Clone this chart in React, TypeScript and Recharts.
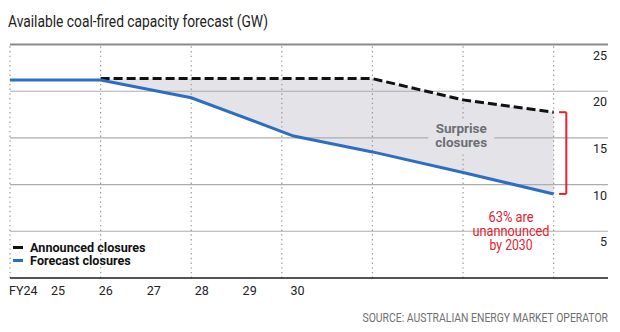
import React from 'react';
import {
  ComposedChart,
  Line,
  Area,
  XAxis,
  YAxis,
  ReferenceLine,
  ReferenceDot,
  Legend,
} from 'recharts';

// x is measured in gridline steps (the dotted verticals)
const gridSteps = [0, 1, 2, 3, 4, 5, 6];
const pointPos = [0, 1, 2, 3.13, 4, 5, 6];
const forecastClosures = [21.2, 21.2, 19.3, 15.2, 13.5, 11.3, 9.0];
const announcedClosures = [null, 21.35, 21.35, 21.35, 21.35, 19.07, 17.75];

const yearLabels = ['FY24', '25', '26', '27', '28', '29', '30'];
const yearLabelPos = [0, 0.529, 1.058, 1.587, 2.116, 2.645, 3.174];
const yTicks = [0, 5, 10, 15, 20, 25];
const hGrid = [5, 10, 15, 20];

const data = pointPos.map((x, i) => ({
  x,
  forecast: forecastClosures[i],
  announced: announcedClosures[i],
  gap: announcedClosures[i] == null ? null : [forecastClosures[i], announcedClosures[i]],
}));

const FONT = "Roboto, 'Liberation Sans', sans-serif";
const RED = '#e4222f';
const BLUE = '#2e6ec2';
const FILL = '#e4e4e8';

const lastAnnounced = announcedClosures[announcedClosures.length - 1] as number;
const lastForecast = forecastClosures[forecastClosures.length - 1];

// the source font is a condensed face, so squeeze regular Roboto to the measured widths
function Narrow({ x, y, w, size, fill, anchor = 'start', children }: any) {
  return (
    <text x={x} y={y} fontFamily={FONT} fontSize={size} fill={fill} textAnchor={anchor}
      textLength={w} lengthAdjust="spacingAndGlyphs">
      {children}
    </text>
  );
}

function XTick(props: any) {
  const { x, y, index } = props;
  const first = index === 0;
  return (
    <text x={first ? x - 1 : x} y={y + 17} textAnchor={first ? 'start' : 'middle'}
      fontFamily={FONT} fontSize={12.5} fill="#222">
      {yearLabels[index]}
    </text>
  );
}

function YTick(props: any) {
  const { x, y, payload } = props;
  if (payload.value === 0) return null;
  return (
    <text x={x - 1} y={y + 15} textAnchor="end" fontFamily={FONT} fontSize={12.5} fill="#222">
      {payload.value}
    </text>
  );
}

const surpriseLabel = (p: any) => (
  <g>
    <rect x={p.cx - 33} y={p.cy - 16} width={66} height={32} fill={FILL} />
    <text x={p.cx} y={p.cy - 2} textAnchor="middle" fontFamily={FONT} fontWeight={700} fontSize={13.5} fill="#6c6f76">
      Surprise
    </text>
    <text x={p.cx} y={p.cy + 12} textAnchor="middle" fontFamily={FONT} fontWeight={700} fontSize={13.5} fill="#6c6f76">
      closures
    </text>
  </g>
);

const redNote = (p: any) => (
  <g>
    <Narrow x={p.cx} y={p.cy - 14.5} w={45} size={14.5} fill={RED} anchor="middle">63% are</Narrow>
    <Narrow x={p.cx} y={p.cy} w={77} size={14.5} fill={RED} anchor="middle">unannounced</Narrow>
    <Narrow x={p.cx} y={p.cy + 14} w={43} size={14.5} fill={RED} anchor="middle">by 2030</Narrow>
  </g>
);

const renderLegend = (props: any) => {
  const items = (props.payload || []).filter((p: any) => p.type !== 'none');
  return (
    <div>
      {items.map((p: any) => (
        <div key={p.value} style={{ display: 'flex', alignItems: 'center', height: 13.4 }}>
          <span style={{ display: 'inline-block', width: 10.6, height: 2.8, background: p.color, marginRight: 7 }} />
          <span style={{ fontFamily: FONT, fontWeight: 700, fontSize: 12.6, color: '#111', lineHeight: '13px' }}>
            {p.value}
          </span>
        </div>
      ))}
    </div>
  );
};

export default function App() {
  return (
    <div style={{ position: 'absolute', left: 0, top: 0, width: 620, height: 332, background: '#fff' }}>
      <svg width={620} height={332} style={{ position: 'absolute', left: 0, top: 0 }}>
        <Narrow x={8} y={27} w={260} size={16.5} fill="#222">
          Available coal-fired capacity forecast (GW)
        </Narrow>
        <Narrow x={608} y={322} w={245.5} size={12} fill="#707070" anchor="end">
          SOURCE: AUSTRALIAN ENERGY MARKET OPERATOR
        </Narrow>
      </svg>
      <div style={{ position: 'absolute', left: 0, top: 0 }}>
        <ComposedChart width={620} height={332} data={data} margin={{ top: 44.5, right: 11, bottom: 24, left: 10 }}>
          <XAxis
            dataKey="x"
            type="number"
            domain={[0, 6.6]}
            ticks={yearLabelPos}
            interval={0}
            tick={<XTick />}
            tickLine={false}
            tickSize={0}
            tickMargin={0}
            height={30}
            axisLine={{ stroke: '#1a1a1a', strokeWidth: 1.6 }}
            allowDataOverflow
          />
          <YAxis
            orientation="right"
            type="number"
            domain={[0, 25]}
            ticks={yTicks}
            width={1}
            axisLine={false}
            tickLine={false}
            tickSize={0}
            tickMargin={0}
            tick={<YTick />}
          />
          <Area
            dataKey="gap"
            type="linear"
            fill={FILL}
            fillOpacity={1}
            stroke="none"
            legendType="none"
            isAnimationActive={false}
          />
          {hGrid.map((v) => (
            <ReferenceLine key={`h${v}`} y={v} stroke="#adadad" strokeWidth={1.1} />
          ))}
          <ReferenceLine y={25} stroke="#8a8a8a" strokeWidth={2.2} />
          {gridSteps.map((v) => (
            <ReferenceLine key={`v${v}`} x={v} stroke="#9a9a9a" strokeWidth={1.2} strokeDasharray="1.4 3.3" />
          ))}
          <ReferenceDot x={4.98} y={15.31} r={0} shape={surpriseLabel} />
          <Line
            dataKey="announced"
            name="Announced closures"
            type="linear"
            stroke="#111"
            strokeWidth={3}
            strokeDasharray="9 4"
            dot={false}
            activeDot={false}
            isAnimationActive={false}
          />
          <Line
            dataKey="forecast"
            name="Forecast closures"
            type="linear"
            stroke={BLUE}
            strokeWidth={3}
            dot={false}
            activeDot={false}
            isAnimationActive={false}
          />
          <ReferenceLine segment={[{ x: 6.14, y: lastAnnounced }, { x: 6.14, y: lastForecast }]} stroke={RED} strokeWidth={2} />
          <ReferenceLine segment={[{ x: 6.06, y: lastAnnounced }, { x: 6.14, y: lastAnnounced }]} stroke={RED} strokeWidth={2} />
          <ReferenceLine segment={[{ x: 6.06, y: lastForecast }, { x: 6.14, y: lastForecast }]} stroke={RED} strokeWidth={2} />
          <ReferenceDot x={5.53} y={4.45} r={0} shape={redNote} />
          <Legend
            layout="horizontal"
            verticalAlign="middle"
            align="center"
            content={renderLegend}
            wrapperStyle={{ left: 12.5, top: 240.6, width: 'auto' }}
          />
        </ComposedChart>
      </div>
    </div>
  );
}
